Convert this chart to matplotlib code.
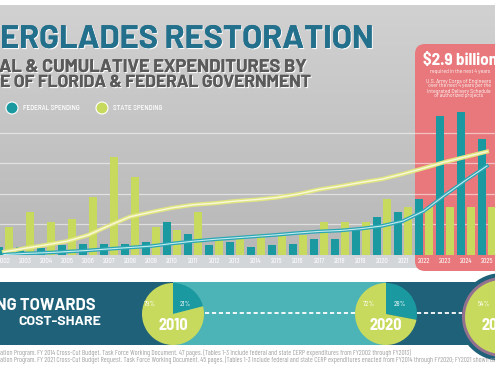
import numpy as np
import matplotlib
matplotlib.use('Agg')
import matplotlib.pyplot as plt
from matplotlib import font_manager
from matplotlib.patches import Rectangle, Circle, Wedge, FancyBboxPatch
import matplotlib.patheffects as pe

plt.rcParams['lines.scale_dashes'] = False

# annual spending, $ millions
years = list(range(2002, 2026))
federal = [54, 54, 44, 66, 70, 70, 70, 88, 218, 138, 66, 88,
           54, 66, 72, 106, 106, 164, 250, 278, 366, 910, 936, 756]
state = [180, 284, 218, 234, 380, 638, 512, 180, 164, 284, 100, 106,
         138, 126, 130, 216, 216, 216, 366, 314, 316, 316, 316, 316]

# cumulative lines, $ millions (right scale, 10x the bar scale)
federal_cum = [30, 100, 150, 220, 300, 400, 490, 580, 750, 900, 1020, 1120,
               1220, 1320, 1440, 1540, 1600, 1720, 1900, 2220, 2880, 3920, 4900, 5820]
state_cum = [200, 440, 660, 900, 1300, 1920, 2500, 2800, 3080, 3280, 3380, 3520,
             3620, 3760, 3980, 4280, 4500, 4740, 4960, 5300, 5680, 6080, 6420, 6760]

# cost-share pies
pie_labels = ['2010', '2020', '2025']
pie_state = [79, 72, 54]
pie_federal = [21, 28, 46]

TEAL = '#1a9aa0'
GREEN = '#c8da5e'
DARK = '#1f6178'
LIGHT = '#4cb4b6'
PINK = '#e8787b'

names = {f.name for f in font_manager.fontManager.ttflist}
COND = 'Barlow Condensed' if 'Barlow Condensed' in names else 'DejaVu Sans'
SEMI = 'Barlow Semi Condensed' if 'Barlow Semi Condensed' in names else 'DejaVu Sans'
WIDE = 'Barlow' if 'Barlow' in names else SEMI

W, H = 495, 373
fig = plt.figure(figsize=(4.95, 3.73), dpi=100)
fig.patch.set_facecolor('white')

bg = fig.add_axes([0, 0, 1, 1])
bg.axis('off')

# gray gradient background
g = np.linspace(0, 1, 256)[:, None, None]
top = np.array([0.82, 0.82, 0.82])
bot = np.array([0.72, 0.72, 0.725])
img = top + (bot - top) * g
bg.imshow(img, extent=[0, W, 255, 5], aspect='auto', zorder=0)
bg.add_patch(Rectangle((0, 255), W, 13, fc='#d3d6d9', ec='none', zorder=1))
bg.set_xlim(0, W)
bg.set_ylim(H, 0)

# pink box
bg.add_patch(FancyBboxPatch((415, 44), 95, 227, boxstyle='round,pad=0,rounding_size=10',
                            fc=PINK, ec='none', zorder=2))

r = fig.canvas.get_renderer()


def width_of(s, size, **kw):
    t = bg.text(0, 0, s, fontsize=size, **kw)
    w = t.get_window_extent(r).width
    t.remove()
    return w


def fit(s, target, **kw):
    return 10 * target / width_of(s, 10, **kw)


def cropped(x, y, hidden, visible, target, **kw):
    size = fit(visible, target, **kw)
    w = width_of(hidden, size, **kw)
    bg.text(x - w, y, hidden + visible, ha='left', fontsize=size, **kw)
    return size


shadow = [pe.withSimplePatchShadow(offset=(0.8, -0.8), shadow_rgbFace='white', alpha=0.9), pe.Normal()]

cropped(0, 48, 'EV', 'ERGLADES RESTORATION', 375, fontweight='bold', family=WIDE,
        color='#23708d', path_effects=shadow, zorder=5)
cropped(-1, 72, 'ANNU', 'AL & CUMULATIVE EXPENDITURES BY', 308, fontweight='bold',
        family=WIDE, color='#5a5a5a', path_effects=shadow, zorder=5)
cropped(0, 87, 'STAT', 'E OF FLORIDA & FEDERAL GOVERNMENT', 312, fontweight='bold',
        family=WIDE, color='#5a5a5a', path_effects=shadow, zorder=5)

# legend
leg_size = fit('FEDERAL SPENDING', 57, family=SEMI, fontweight='medium')
bg.add_patch(Circle((12, 108), 6, fc=TEAL, ec='white', lw=0.8, zorder=5))
bg.text(23, 108, 'FEDERAL SPENDING', fontsize=leg_size, family=SEMI, fontweight='medium',
        color='white', va='center', zorder=5)
bg.add_patch(Circle((102, 108), 6, fc=GREEN, ec='white', lw=0.8, zorder=5))
bg.text(113, 108, 'STATE SPENDING', fontsize=leg_size, family=SEMI, fontweight='medium',
        color='white', va='center', zorder=5)

# pink box text
bg.text(423, 65, '$2.9 billion', fontsize=fit('$2.9 billion', 74, family=SEMI, fontweight='bold'),
        fontweight='bold', family=SEMI, color='white', zorder=5)
small = fit('U.S. Army Corps of Engineers', 65, family=WIDE)
bg.text(460, 71, 'required in the next 4 years', fontsize=small, family=WIDE, color='white',
        ha='center', va='center', zorder=5)
for i, line in enumerate(['U.S. Army Corps of Engineers', 'over the next 4 years per the',
                          'Integrated Delivery Schedule', 'of authorized projects']):
    bg.text(459, 81 + 5 * i, line, fontsize=small, family=WIDE, color='white',
            ha='center', va='center', zorder=5)

# bottom band
bg.add_patch(Rectangle((0, 282), W, 63, fc=DARK, ec='none', zorder=2))
bg.add_patch(Rectangle((173, 282), 213, 63, fc=LIGHT, ec='none', zorder=2))
bg.add_patch(Circle((502, 317), 44, fc=DARK, ec='none', zorder=2))
bg.add_patch(Circle((502, 317), 40, fc='#94718f', ec='none', zorder=3))
bg.plot([205, 355], [313, 313], color='white', lw=1.3, dashes=(3, 2), zorder=3)
bg.plot([417, 462], [313, 313], color='white', lw=1.3, dashes=(3, 2), zorder=3)

cropped(-4, 310, 'MOVI', 'NG TOWARDS', 100, fontweight='bold', family=WIDE,
        color='white', zorder=5)
bg.text(18, 325, 'COST-SHARE', fontsize=fit('COST-SHARE', 83, family=WIDE, fontweight='bold'),
        fontweight='bold', family=WIDE, color='white', ha='left', zorder=5)

pies = [(173, 314, 31), (386, 314, 31), (502, 317, 37)]
pct_pos = [((150, 304), (185, 304)), ((369, 304), (400, 304)), ((484, 304), (530, 304))]
pct_size = fit('79%', 12, family=SEMI)
yr_size = fit('2010', 30, family=SEMI, fontweight='bold')
for (cx, cy, rad), lab, s, f, pp in zip(pies, pie_labels, pie_state, pie_federal, pct_pos):
    a = -90 + f * 3.6
    bg.add_patch(Wedge((cx, cy), rad, -90, a, fc=TEAL, ec='none', zorder=4))
    bg.add_patch(Wedge((cx, cy), rad, a, 270, fc=GREEN, ec='none', zorder=4))
    bg.text(pp[0][0], pp[0][1], f'{s}%', fontsize=pct_size, family=SEMI, color='white',
            ha='center', va='center', zorder=5)
    bg.text(pp[1][0], pp[1][1], f'{f}%', fontsize=pct_size, family=SEMI, color='white',
            ha='center', va='center', zorder=5)
    bg.text(cx - 4 if cx > 480 else cx, 326, lab, fontsize=yr_size, fontweight='bold', family=SEMI,
            color='white', ha='center', va='center', zorder=5)

# footnotes
foot1 = ('ation Program. FY 2014 Cross-Cut Budget. Task Force Working Document. 47 pages. '
         '(Tables 1-3 include federal and state CERP expenditures from FY2002 through FY2013)')
foot2 = ('ation Program. FY 2021 Cross-Cut Budget Request. Task Force Working Document. 45 pages. '
         '(Tables 1-3 include federal and state CERP expenditures enacted from FY2014 through FY2020; '
         'FY2021 shown as enacted)')
foot_size = fit(foot1, 413, family=COND)
w_hidden = width_of('South Florida Ecosystem Restor', foot_size, family=COND)
bg.text(-w_hidden, 355, 'South Florida Ecosystem Restor' + foot1, fontsize=foot_size, family=COND,
        color='#a2a2a2', zorder=5)
bg.text(-w_hidden, 362, 'South Florida Ecosystem Restor' + foot2, fontsize=foot_size, family=COND,
        color='#a2a2a2', zorder=5)

# chart
ax = fig.add_axes([0, 118 / H, 1, 250 / H])
ax.patch.set_alpha(0)
x = np.array(years)
ax.bar(x - 0.238, federal, width=0.41, color=TEAL, zorder=3)
ax.bar(x + 0.238, state, width=0.41, color=GREEN, zorder=3)
ax.set_xlim(2001.81, 2025.381)
ax.set_ylim(0, 1634)
ax.set_yticks([200, 400, 600, 800])
ax.yaxis.grid(True, color='white', alpha=0.55, lw=0.9)
ax.set_axisbelow(True)
ax.set_xticks(years)
ax.set_xticklabels([str(y) for y in years], family=COND)
ax.tick_params(axis='x', length=0, pad=2, labelsize=fit('2007', 13, family=COND), labelcolor='white')
ax.tick_params(axis='y', length=0, labelleft=False)
for s in ax.spines.values():
    s.set_visible(False)

ax2 = ax.twinx()
ax2.set_ylim(0, 16340)
ax2.axis('off')
ax2.plot(years, state_cum, color='#e1e681', lw=3, zorder=4)
ax2.plot(years, state_cum, color='#f8f8dc', lw=1, zorder=5)
ax2.plot(years, federal_cum, color='#2aa6b4', lw=2.6, zorder=4)
ax2.plot(years, federal_cum, color='#c6ecf0', lw=0.8, zorder=5)

fig.savefig('out.png', dpi=100)
